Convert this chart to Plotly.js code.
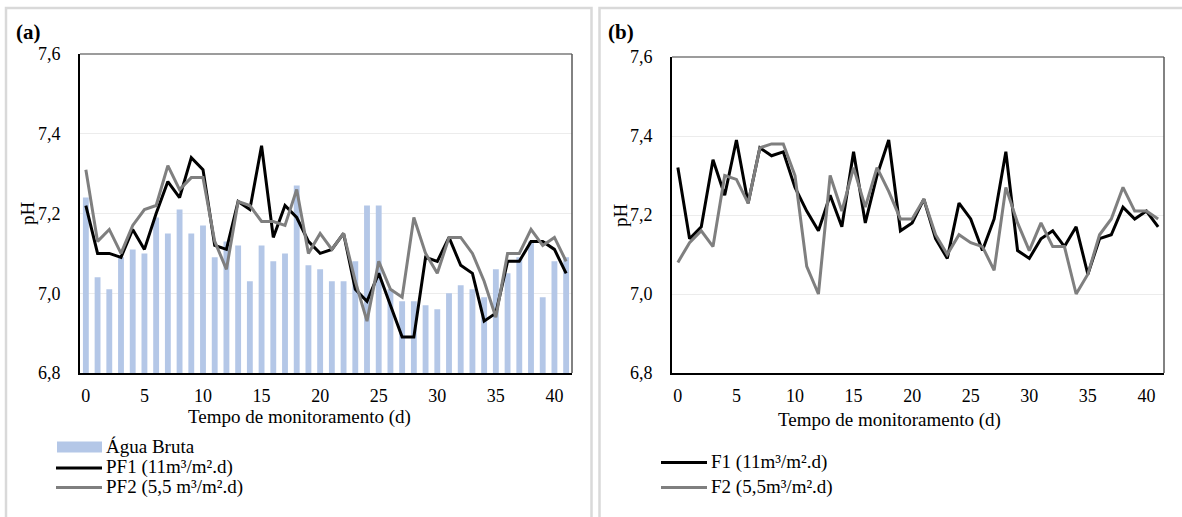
<!DOCTYPE html>
<html>
<head>
<meta charset="utf-8">
<script src="https://cdn.plot.ly/plotly-3.0.1.min.js"></script>
<style>
  html, body { margin: 0; padding: 0; background: #ffffff; }
  #chart { width: 1182px; height: 517px; }
</style>
</head>
<body>
<div id="chart"></div>
<script>
// Monitoring days (0..41)
const days = Array.from({length: 42}, (_, i) => i);

// Panel (a): raw water and pre-filters
const aguaBruta = [7.24, 7.04, 7.01, 7.09, 7.11, 7.10, 7.19, 7.15, 7.21, 7.15,
                   7.17, 7.09, 7.13, 7.12, 7.03, 7.12, 7.08, 7.10, 7.27, 7.07,
                   7.06, 7.03, 7.03, 7.08, 7.22, 7.22, 7.01, 6.98, 6.98, 6.97,
                   6.96, 7.00, 7.02, 7.01, 6.99, 7.06, 7.05, 7.09, 7.13, 6.99,
                   7.08, 7.09];
const pf1 = [7.22, 7.10, 7.10, 7.09, 7.16, 7.11, 7.20, 7.28, 7.24, 7.34,
             7.31, 7.12, 7.11, 7.23, 7.21, 7.37, 7.14, 7.22, 7.19, 7.13,
             7.10, 7.11, 7.15, 7.01, 6.98, 7.05, 6.97, 6.89, 6.89, 7.09,
             7.08, 7.14, 7.07, 7.05, 6.93, 6.95, 7.08, 7.08, 7.13, 7.13,
             7.11, 7.05];
const pf2 = [7.31, 7.13, 7.16, 7.10, 7.17, 7.21, 7.22, 7.32, 7.26, 7.29,
             7.29, 7.13, 7.06, 7.23, 7.22, 7.18, 7.18, 7.17, 7.26, 7.10,
             7.15, 7.11, 7.15, 7.03, 6.93, 7.08, 7.01, 6.99, 7.19, 7.10,
             7.05, 7.14, 7.14, 7.10, 7.03, 6.94, 7.10, 7.10, 7.16, 7.12,
             7.14, 7.08];

// Panel (b): filters
const f1 = [7.32, 7.14, 7.17, 7.34, 7.25, 7.39, 7.23, 7.37, 7.35, 7.36,
            7.27, 7.21, 7.16, 7.25, 7.17, 7.36, 7.18, 7.30, 7.39, 7.16,
            7.18, 7.24, 7.14, 7.09, 7.23, 7.19, 7.11, 7.19, 7.36, 7.11,
            7.09, 7.14, 7.16, 7.12, 7.17, 7.05, 7.14, 7.15, 7.22, 7.19,
            7.21, 7.17];
const f2 = [7.08, 7.13, 7.16, 7.12, 7.30, 7.29, 7.23, 7.37, 7.38, 7.38,
            7.30, 7.07, 7.00, 7.30, 7.21, 7.32, 7.22, 7.32, 7.26, 7.19,
            7.19, 7.24, 7.15, 7.10, 7.15, 7.13, 7.12, 7.06, 7.27, 7.18,
            7.11, 7.18, 7.12, 7.12, 7.00, 7.05, 7.15, 7.19, 7.27, 7.21,
            7.21, 7.19];

const namesA = ['Água Bruta', 'PF1 (11m³/m².d)', 'PF2 (5,5 m³/m².d)'];
const namesB = ['F1 (11m³/m².d)', 'F2 (5,5m³/m².d)'];
const xTickVals = [0, 5, 10, 15, 20, 25, 30, 35, 40];
const yTickVals = [6.8, 7.0, 7.2, 7.4, 7.6];
const xTitle = 'Tempo de monitoramento (d)';
const yTitle = 'pH';

const W = 1182, H = 517;
const BAR = '#b4c7e7', DARK = '#000000', GREY = '#7f7f7f';
const FONT = '"Liberation Serif", "Times New Roman", serif';

// pixel -> paper helpers for layout placement
const px = v => v / W;
const py = v => 1 - v / H;

const traces = [
  {type: 'bar', x: days, y: aguaBruta, name: namesA[0], marker: {color: BAR},
   width: 0.5, xaxis: 'x', yaxis: 'y'},
  {type: 'scatter', mode: 'lines', x: days, y: pf1, name: namesA[1],
   line: {color: DARK, width: 3}, xaxis: 'x', yaxis: 'y'},
  {type: 'scatter', mode: 'lines', x: days, y: pf2, name: namesA[2],
   line: {color: GREY, width: 3}, xaxis: 'x', yaxis: 'y'},
  {type: 'scatter', mode: 'lines', x: days, y: f1, name: namesB[0],
   line: {color: DARK, width: 3}, xaxis: 'x2', yaxis: 'y2'},
  {type: 'scatter', mode: 'lines', x: days, y: f2, name: namesB[1],
   line: {color: GREY, width: 3}, xaxis: 'x2', yaxis: 'y2'}
];

function xAxis(domain, anchor) {
  return {
    domain: domain, anchor: anchor, range: [-0.5, 41.5],
    tickvals: xTickVals, ticks: '', ticklabelstandoff: 5,
    showgrid: false, zeroline: false,
    showline: true, linecolor: '#000000', linewidth: 2,
    tickfont: {family: FONT, size: 18, color: '#000000'}
  };
}
function yAxis(domain, anchor) {
  return {
    domain: domain, anchor: anchor, range: [6.8, 7.6],
    tickvals: yTickVals, tickformat: '.1f', ticks: '', ticklabelstandoff: 14,
    showgrid: true, gridcolor: '#ececec', gridwidth: 1, zeroline: false,
    showline: true, linecolor: '#000000', linewidth: 2,
    tickfont: {family: FONT, size: 18, color: '#000000'}
  };
}

const xa = [80, 572], ya = [54, 373];
const xb = [672, 1164], yb = [57, 373];

const shapes = [];
const annotations = [];

// outer panel frames
const frame = {color: '#d9d9d9', width: 2.5};
[[6, 591.5], [599.5, 1190]].forEach(([l, r]) => {
  shapes.push({type: 'rect', xref: 'paper', yref: 'paper', layer: 'below',
    x0: px(l), x1: px(r), y0: py(530), y1: py(8), line: frame});
});

// top and right edges of each plot area
[[xa, ya], [xb, yb]].forEach(([xr, yr]) => {
  shapes.push({type: 'line', xref: 'paper', yref: 'paper', layer: 'above',
    x0: px(xr[0]), x1: px(xr[1]), y0: py(yr[0]), y1: py(yr[0]),
    line: {color: '#3a3a3a', width: 1.2}});
  shapes.push({type: 'line', xref: 'paper', yref: 'paper', layer: 'above',
    x0: px(xr[1]), x1: px(xr[1]), y0: py(yr[0]), y1: py(yr[1]),
    line: {color: '#595959', width: 1.5}});
});

// panel letters
annotations.push({text: '<b>(a)</b>', x: px(14), y: py(32), xref: 'paper', yref: 'paper',
  xanchor: 'left', yanchor: 'middle', showarrow: false,
  font: {family: FONT, size: 21, color: '#000000'}});
annotations.push({text: '<b>(b)</b>', x: px(606), y: py(32), xref: 'paper', yref: 'paper',
  xanchor: 'left', yanchor: 'middle', showarrow: false,
  font: {family: FONT, size: 21, color: '#000000'}});

// axis titles
[[299, 417, 27, 213], [889, 420, 620, 215]].forEach(([xx, xy, yx, yy]) => {
  annotations.push({text: xTitle, x: px(xx), y: py(xy), xref: 'paper', yref: 'paper',
    xanchor: 'center', yanchor: 'middle', showarrow: false,
    font: {family: FONT, size: 19, color: '#000000'}});
  annotations.push({text: yTitle, x: px(yx), y: py(yy), xref: 'paper', yref: 'paper',
    xanchor: 'center', yanchor: 'middle', textangle: -90, showarrow: false,
    font: {family: FONT, size: 19, color: '#000000'}});
});

// legend entries
function legendItem(kind, color, label, x0, x1, yc) {
  if (kind === 'bar') {
    shapes.push({type: 'rect', xref: 'paper', yref: 'paper',
      x0: px(x0), x1: px(x1), y0: py(yc + 5.5), y1: py(yc - 5.5),
      fillcolor: color, line: {width: 0}});
  } else {
    shapes.push({type: 'line', xref: 'paper', yref: 'paper',
      x0: px(x0), x1: px(x1), y0: py(yc), y1: py(yc),
      line: {color: color, width: 3}});
  }
  annotations.push({text: label, x: px(x1 + 2), y: py(yc - 1), xref: 'paper', yref: 'paper',
    xanchor: 'left', yanchor: 'middle', showarrow: false,
    font: {family: FONT, size: 19, color: '#000000'}});
}
legendItem('bar', BAR, namesA[0], 57, 102, 447);
legendItem('line', DARK, namesA[1], 56, 102, 468);
legendItem('line', GREY, namesA[2], 56, 102, 487.5);
legendItem('line', DARK, namesB[0], 661, 707, 462.5);
legendItem('line', GREY, namesB[1], 661, 707, 487.5);

const layout = {
  width: W, height: H,
  margin: {l: 0, r: 0, t: 0, b: 0},
  paper_bgcolor: '#ffffff', plot_bgcolor: 'rgba(0,0,0,0)',
  separators: ',.',
  showlegend: false,
  barmode: 'overlay',
  xaxis: xAxis([px(xa[0]), px(xa[1])], 'y'),
  yaxis: yAxis([py(ya[1]), py(ya[0])], 'x'),
  xaxis2: xAxis([px(xb[0]), px(xb[1])], 'y2'),
  yaxis2: yAxis([py(yb[1]), py(yb[0])], 'x2'),
  shapes: shapes,
  annotations: annotations,
  font: {family: FONT, color: '#000000'}
};

Plotly.newPlot('chart', traces, layout, {displayModeBar: false, staticPlot: true});
</script>
</body>
</html>
